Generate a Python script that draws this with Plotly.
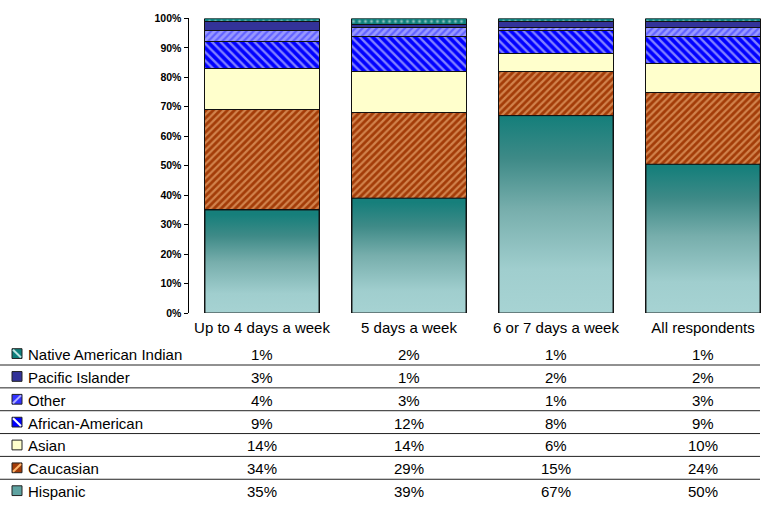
import plotly.graph_objects as go

# ---- data -------------------------------------------------------------
categories = ["Up to 4 days a week", "5 days a week", "6 or 7 days a week", "All respondents"]

hispanic = [35, 39, 67, 50]
caucasian = [34, 29, 15, 24]
asian = [14, 14, 6, 10]
african_american = [9, 12, 8, 9]
other = [4, 3, 1, 3]
pacific_islander = [3, 1, 2, 2]
native_american_indian = [1, 2, 1, 1]

y_tick_values = [0, 10, 20, 30, 40, 50, 60, 70, 80, 90, 100]

# ---- canvas geometry (pixels) ------------------------------------------
W, H = 764, 508
FONT = "Arial, 'Liberation Sans', sans-serif"
TEXT_SIZE = 15
PLOT_LEFT, PLOT_TOP, PLOT_BOTTOM = 188.5, 12.7, 314.5
CAT_STEP = 147.0          # pixels per category
BAR_W = 0.776             # bar width in category units


def px_x(p):
    return p / W


def px_y(p):
    return 1 - p / H


# stacking order: bottom of the bar first
series = [
    ("Hispanic", hispanic, dict(color="rgba(0,0,0,0)")),
    ("Caucasian", caucasian, dict(color="#a33c08",
                                  pattern=dict(shape="/", bgcolor="#a33c08", fgcolor="#ffc890",
                                               size=5, solidity=0.45))),
    ("Asian", asian, dict(color="#ffffcc")),
    ("African-American", african_american, dict(color="#0000ff",
                                                 pattern=dict(shape="\\", bgcolor="#0000ff", fgcolor="#ffffff",
                                                              size=6, solidity=0.4))),
    ("Other", other, dict(color="#9999ff",
                          pattern=dict(shape="/", bgcolor="#9999ff", fgcolor="#2a2aff",
                                       size=5, solidity=0.45))),
    ("Pacific Islander", pacific_islander, dict(color="#333399")),
    ("Native American Indian", native_american_indian, dict(color="#0e7f7c",
                                                            pattern=dict(shape=".", bgcolor="#0e7f7c", fgcolor="#ffffff",
                                                                         size=6, solidity=0.2))),
]

xs = list(range(len(categories)))
totals = [sum(s[1][i] for s in series) for i in xs]

fig = go.Figure()

for name, vals, marker in series:
    marker = dict(marker)
    marker["line"] = dict(color="#111111", width=1)
    fig.add_trace(go.Bar(
        x=xs, y=vals, name=name, width=BAR_W, marker=marker,
        hoverinfo="name+y",
    ))

# Hispanic segments: vertical teal gradient, light at the base
teal_scale = [[0.0, "#a8d4d4"], [0.25, "#a0cece"], [0.55, "#77aeac"],
              [0.8, "#3e8a87"], [1.0, "#167f7b"]]
for i in xs:
    top = hispanic[i] / totals[i]
    x0, x1 = i - BAR_W / 2, i + BAR_W / 2
    fig.add_trace(go.Scatter(
        x=[x0, x1, x1, x0, x0], y=[0, 0, top, top, 0],
        mode="lines", fill="toself",
        fillgradient=dict(type="vertical", colorscale=teal_scale, start=0, stop=top),
        line=dict(color="#111111", width=1),
        hoverinfo="skip", showlegend=False,
    ))

x_span = (W - PLOT_LEFT) / CAT_STEP
fig.update_layout(
    width=W, height=H,
    margin=dict(l=0, r=0, t=0, b=0),
    barmode="stack", barnorm="fraction",
    showlegend=False,
    paper_bgcolor="white", plot_bgcolor="white",
    font=dict(family=FONT, color="black"),
    xaxis=dict(
        domain=[px_x(PLOT_LEFT), 1], range=[-0.5, -0.5 + x_span],
        tickvals=xs, ticktext=categories, ticks="",
        showline=False, showgrid=False, zeroline=False,
        ticklabelstandoff=4,
        tickfont=dict(size=TEXT_SIZE, family=FONT),
    ),
    yaxis=dict(
        domain=[px_y(PLOT_BOTTOM), px_y(PLOT_TOP)], range=[0, 1],
        tickvals=[v / 100 for v in y_tick_values], tickformat=".0%",
        ticks="outside", ticklen=4, tickcolor="black",
        showline=True, linecolor="black", linewidth=1,
        showgrid=False, zeroline=False,
        tickfont=dict(size=10.5, family=FONT, weight="bold"),
    ),
)

# ---- data table below the chart -----------------------------------------
swatches = {
    "Native American Indian": ("#0e7f7c", "#bfe6e4", "\\"),
    "Pacific Islander": ("#333399", None, None),
    "Other": ("#3333ff", "#b0b0ff", "/"),
    "African-American": ("#0000ff", "#ffffff", "\\"),
    "Asian": ("#ffffcc", None, None),
    "Caucasian": ("#a33c08", "#ffb870", "/"),
    "Hispanic": ("#5fa3a1", None, None),
}

ROW0, ROW_STEP = 357.0, 23.4
rows = list(reversed(series))  # top row is the top of the stack
for r, (name, vals, _) in enumerate(rows):
    cy = ROW0 + r * ROW_STEP
    fill, stripe, direction = swatches[name]
    fig.add_shape(type="rect", xref="paper", yref="paper",
                  x0=px_x(12), x1=px_x(22), y0=px_y(cy + 4), y1=px_y(cy - 6),
                  fillcolor=fill, line=dict(color="#222222", width=1))
    if stripe:
        if direction == "/":
            sx0, sy0, sx1, sy1 = 13, cy + 3, 21, cy - 5
        else:
            sx0, sy0, sx1, sy1 = 13, cy - 5, 21, cy + 3
        fig.add_shape(type="line", xref="paper", yref="paper",
                      x0=px_x(sx0), y0=px_y(sy0), x1=px_x(sx1), y1=px_y(sy1),
                      line=dict(color=stripe, width=2))
    fig.add_annotation(text=name, xref="paper", yref="paper",
                       x=px_x(26), y=px_y(cy), xanchor="left", yanchor="middle",
                       showarrow=False, font=dict(size=TEXT_SIZE, family=FONT, color="black"))
    for i in xs:
        fig.add_annotation(text=f"{vals[i]}%", xref="x", yref="paper",
                           x=i, y=px_y(cy), xanchor="center", yanchor="middle",
                           showarrow=False, font=dict(size=TEXT_SIZE, family=FONT, color="black"))
    if r < len(rows) - 1:
        ly = cy + ROW_STEP / 2 - 1
        fig.add_shape(type="line", xref="paper", yref="paper",
                      x0=0, x1=px_x(760), y0=px_y(ly), y1=px_y(ly),
                      line=dict(color="#222222", width=1))

fig.write_html("out.html")
